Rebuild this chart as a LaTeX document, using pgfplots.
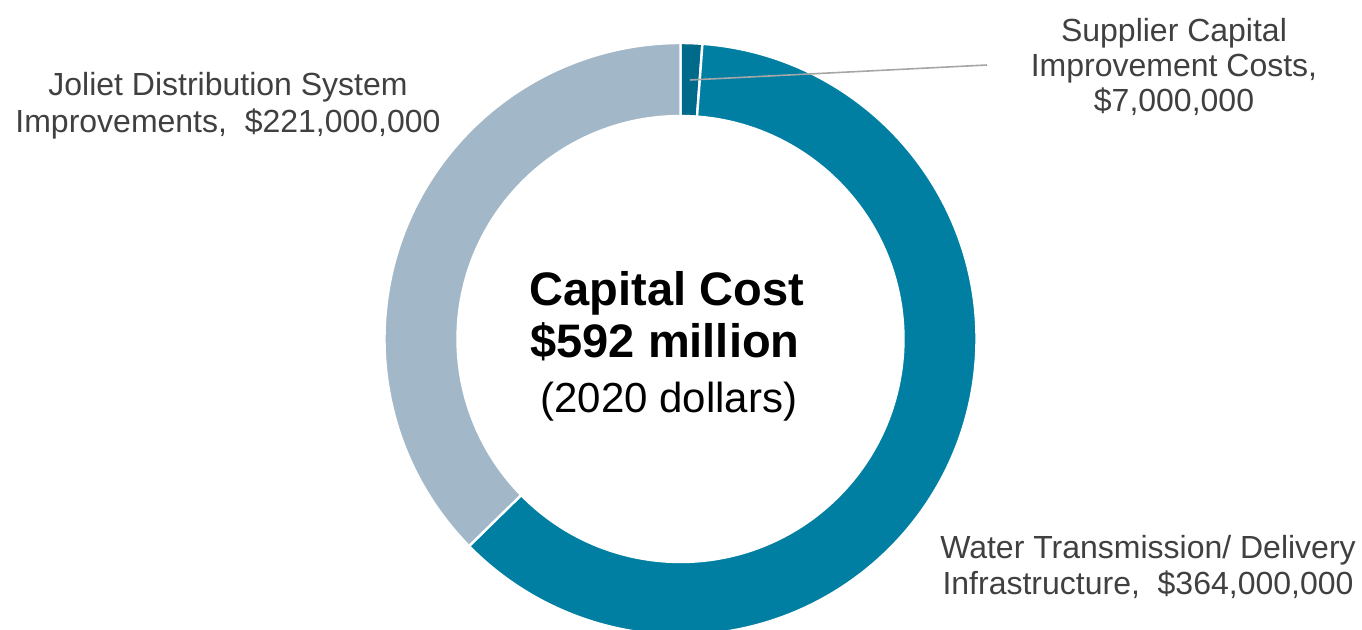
\documentclass[border=0pt]{standalone}
\usepackage{fontspec}
\setmainfont{Liberation Sans}
\usepackage{pgfplots}
\usepackage{pgfplotstable}
\pgfplotsset{compat=1.18}
\usetikzlibrary{calc}

\definecolor{supplier}{HTML}{006A8A}
\definecolor{water}{HTML}{007FA3}
\definecolor{joliet}{HTML}{A2B8C9}
\definecolor{lbl}{HTML}{404040}
\definecolor{leader}{HTML}{A6A6A6}

% capital cost in millions of 2020 dollars, clockwise from the top
\pgfplotstableread{
part value
supplier 7
water 364
joliet 221
}\costs

\tikzset{
  lab/.style={font=\fontsize{16pt}{17.75pt}\selectfont, text=lbl, anchor=base, inner sep=0pt},
  big/.style={font=\fontsize{23.5pt}{26pt}\selectfont\bfseries, text=black, anchor=base, inner sep=0pt},
  sub/.style={font=\fontsize{21pt}{24pt}\selectfont, text=black, anchor=base, inner sep=0pt}}

\begin{document}
\begin{tikzpicture}
\pgfplotstablegetelem{0}{value}\of\costs \let\vA\pgfplotsretval
\pgfplotstablegetelem{1}{value}\of\costs \let\vB\pgfplotsretval
\pgfplotstablegetelem{2}{value}\of\costs \let\vC\pgfplotsretval
\pgfmathsetmacro\total{\vA+\vB+\vC}
\pgfmathsetmacro\aA{90}
\pgfmathsetmacro\aB{\aA-\vA/\total*360}
\pgfmathsetmacro\aC{\aB-\vB/\total*360}
\pgfmathsetmacro\aD{\aC-\vC/\total*360}
\def\cx{680.5}\def\cy{290}
\def\rout{148pt}\def\rin{111.5pt}
\newcommand\ring[3]{%
  \fill[#3, draw=white, line width=1.2pt]
    ($(axis cs:\cx,\cy)+(#1:\rout)$) arc[start angle=#1, end angle=#2, radius=\rout]
    -- ($(axis cs:\cx,\cy)+(#2:\rin)$) arc[start angle=#2, end angle=#1, radius=\rin]
    -- cycle;}
\begin{axis}[
    x=0.5pt, y=0.5pt,
    xmin=0, xmax=1362, ymin=0, ymax=629,
    hide axis, clip=false]
\ring{\aA}{\aB}{supplier}
\ring{\aB}{\aC}{water}
\ring{\aC}{\aD}{joliet}

\draw[leader, line width=0.8pt] (axis cs:690,549) -- (axis cs:987,564);

\node[lab] at (axis cs:1174,588) {Supplier Capital};
\node[lab] at (axis cs:1174,553) {Improvement Costs,};
\node[lab] at (axis cs:1174,518) {\$7,000,000};

\node[lab] at (axis cs:228,534) {Joliet Distribution System};
\node[lab] at (axis cs:228,497) {Improvements,\ \ \$221,000,000};

\node[lab] at (axis cs:1148,71) {Water Transmission/ Delivery};
\node[lab] at (axis cs:1148,35) {Infrastructure,\ \ \$364,000,000};

\node[big] at (axis cs:667,324) {Capital Cost};
\node[big] at (axis cs:665,272) {\$592 million};
\node[sub] at (axis cs:669,217) {(2020 dollars)};
\end{axis}
\pgfresetboundingbox
\path (current axis.south west) rectangle (current axis.north east);
\end{tikzpicture}
\end{document}
